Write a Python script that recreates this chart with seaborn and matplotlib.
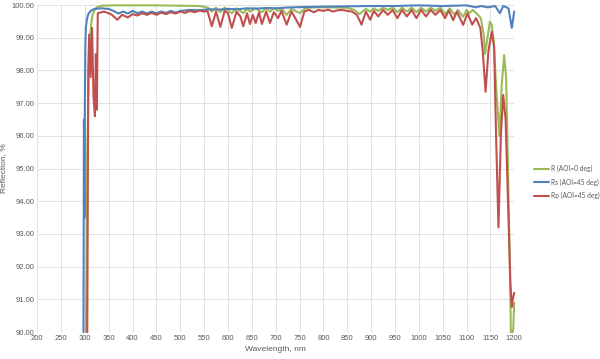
import matplotlib
matplotlib.use("Agg")
import matplotlib.pyplot as plt
import seaborn as sns
from matplotlib.ticker import FormatStrFormatter, MultipleLocator

# ---------------- data ----------------
wl_R = [302, 304, 305, 307, 309, 311, 313, 316, 320, 325, 335, 360, 400, 450, 500, 540,
        550, 560, 566, 575, 584, 593, 608, 618, 632, 640, 646, 658, 671, 680, 688, 696,
        705, 712, 723, 733, 741, 751, 760, 770, 790, 810, 830, 850, 865, 875, 889, 898,
        906, 915, 925, 935, 945, 955, 965, 975, 985, 995, 1005, 1015, 1025, 1035, 1045,
        1055, 1065, 1075, 1082, 1093, 1100, 1106, 1113, 1124, 1130, 1136, 1139, 1143,
        1149, 1153, 1157, 1163, 1169, 1174, 1179, 1183, 1187, 1191, 1193, 1197, 1198, 1200]
R = [90.0, 92.5, 95.4, 97.0, 98.4, 99.0, 99.4, 99.7, 99.85, 99.93, 99.98, 99.99, 99.99, 99.99, 99.98, 99.97,
     99.95, 99.9, 99.8, 99.92, 99.78, 99.92, 99.75, 99.9, 99.75, 99.88, 99.8, 99.9, 99.78, 99.9, 99.8, 99.9,
     99.82, 99.9, 99.7, 99.88, 99.82, 99.75, 99.88, 99.92, 99.93, 99.93, 99.92, 99.92, 99.85, 99.72, 99.88, 99.8,
     99.9, 99.82, 99.92, 99.85, 99.92, 99.78, 99.92, 99.8, 99.92, 99.78, 99.92, 99.8, 99.92, 99.82, 99.92,
     99.72, 99.9, 99.7, 99.85, 99.64, 99.85, 99.75, 99.85, 99.7, 99.6, 99.1, 98.5, 98.9,
     99.49, 99.4, 98.9, 97.3, 96.0, 97.6, 98.47, 97.8, 95.0, 92.0, 90.0, 90.0, 90.1, 90.9]

wl_Rs = [297, 298, 299, 300, 301, 302, 304, 307, 312, 320, 335, 350, 360, 370, 380, 390,
         400, 410, 420, 430, 440, 450, 460, 470, 480, 490, 500, 520, 540, 560, 580, 600,
         620, 640, 660, 680, 700, 720, 740, 760, 800, 850, 900, 950, 1000, 1050, 1100,
         1120, 1130, 1145, 1160, 1170, 1177, 1188, 1195, 1200]
Rs = [90.0, 96.5, 93.5, 97.2, 98.8, 99.3, 99.55, 99.72, 99.82, 99.88, 99.9, 99.88, 99.82, 99.74, 99.8, 99.74,
      99.82, 99.75, 99.8, 99.74, 99.8, 99.75, 99.8, 99.76, 99.82, 99.77, 99.82, 99.85, 99.84, 99.87, 99.86, 99.88,
      99.87, 99.9, 99.89, 99.91, 99.9, 99.92, 99.93, 99.94, 99.95, 99.96, 99.97, 99.97, 99.99, 99.97, 99.99,
      99.93, 99.97, 99.93, 99.97, 99.75, 99.97, 99.9, 99.3, 99.8]

wl_Rp = [305, 307, 309, 312, 315, 318, 321, 323, 325, 327, 340, 355, 368, 378, 390, 400,
         410, 420, 430, 440, 450, 460, 470, 480, 490, 500, 510, 520, 530, 540, 550, 557,
         566, 575, 584, 593, 600, 608, 618, 626, 632, 640, 646, 652, 658, 665, 671, 680,
         688, 696, 705, 712, 723, 733, 741, 751, 760, 770, 780, 790, 800, 810, 820, 830,
         840, 850, 860, 870, 880, 889, 898, 906, 915, 925, 935, 945, 955, 965, 975, 985,
         995, 1005, 1015, 1025, 1035, 1045, 1055, 1063, 1072, 1080, 1093, 1102, 1112, 1120,
         1129, 1134, 1140, 1146, 1153, 1158, 1162, 1167, 1172, 1177, 1182, 1187, 1192, 1195,
         1197, 1200]
Rp = [90.0, 98.0, 99.1, 97.8, 99.3, 97.2, 96.6, 98.5, 96.8, 99.75, 99.8, 99.72, 99.55, 99.7, 99.62, 99.72,
      99.68, 99.75, 99.7, 99.76, 99.7, 99.77, 99.72, 99.78, 99.74, 99.8, 99.76, 99.82, 99.78, 99.83, 99.8, 99.82,
      99.35, 99.8, 99.33, 99.82, 99.75, 99.3, 99.8, 99.65, 99.35, 99.75, 99.42, 99.7, 99.45, 99.78, 99.42, 99.8,
      99.45, 99.78, 99.6, 99.82, 99.4, 99.8, 99.6, 99.33, 99.8, 99.85, 99.78, 99.85, 99.82, 99.86, 99.8, 99.84,
      99.85, 99.82, 99.8, 99.7, 99.4, 99.8, 99.55, 99.82, 99.65, 99.85, 99.7, 99.85, 99.6, 99.85, 99.65, 99.85,
      99.6, 99.85, 99.65, 99.85, 99.7, 99.85, 99.6, 99.83, 99.54, 99.8, 99.39, 99.75, 99.4, 99.6,
      99.3, 98.6, 97.35, 98.6, 99.18, 98.7, 96.0, 93.2, 96.0, 97.25, 96.5, 94.0, 91.5, 90.77,
      91.0, 91.2]

labels = ["R (AOI=0 deg)", "Rs (AOI=45 deg)", "Rp (AOI=45 deg)"]
x_ticks = list(range(200, 1201, 50))

# ---------------- style ----------------
sns.set_theme(style="white")
plt.rcParams["font.family"] = ["Liberation Sans", "DejaVu Sans"]

fig, ax = plt.subplots(figsize=(6.0, 3.59), dpi=100)
fig.subplots_adjust(left=0.062, right=0.857, bottom=0.075, top=0.986)

colors = ["#9BBB59", "#4F81BD", "#C0504D"]
series = [(wl_R, R), (wl_Rs, Rs), (wl_Rp, Rp)]
for (xs, ys), lab, c in zip(series, labels, colors):
    sns.lineplot(x=xs, y=ys, ax=ax, color=c, linewidth=1.5, label=lab,
                 estimator=None, sort=False, clip_on=False, zorder=3)

ax.set_xlim(200, 1200)
ax.set_ylim(90, 100)
ax.set_xticks(x_ticks)
ax.yaxis.set_major_locator(MultipleLocator(1))
ax.yaxis.set_major_formatter(FormatStrFormatter("%.2f"))
ax.grid(True, color="#E2E2E2", linewidth=0.75)
for s in ax.spines.values():
    s.set_visible(False)
ax.tick_params(axis="both", length=0, labelsize=5.5, colors="#595959", pad=2)
ax.set_xlabel("Wavelength, nm", fontsize=6, color="#595959", labelpad=3)
ax.set_ylabel("Reflection, %", fontsize=6, color="#595959", labelpad=3)

leg = ax.legend(loc="center left", bbox_to_anchor=(0.890, 0.493), bbox_transform=fig.transFigure,
                frameon=False, handlelength=2.2, handletextpad=0.3, borderpad=0, borderaxespad=0,
                labelspacing=0.95, labelcolor="#595959",
                prop={"family": ["Lato", "Liberation Sans"], "size": 4.8})

fig.savefig("out.png", dpi=100)
